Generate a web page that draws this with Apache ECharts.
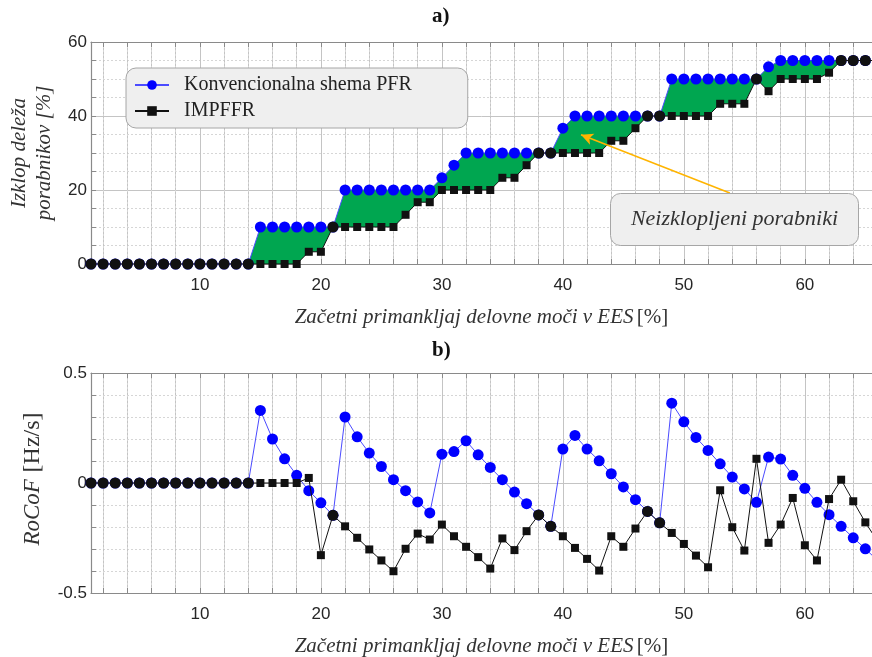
<!DOCTYPE html>
<html><head><meta charset="utf-8">
<script src="https://cdn.jsdelivr.net/npm/echarts@6/dist/echarts.min.js"></script>
<style>html,body{margin:0;padding:0;background:#fff}#c{width:872px;height:657px}</style>
</head><body><div id="c"></div>
<script>
// ---- data ----
const xValues = [1,2,3,4,5,6,7,8,9,10,11,12,13,14,15,16,17,18,19,20,21,22,23,24,25,26,27,28,29,30,31,32,33,34,35,36,37,38,39,40,41,42,43,44,45,46,47,48,49,50,51,52,53,54,55,56,57,58,59,60,61,62,63,64,65,66];
// a) Izklop deleža porabnikov [%]
const shedPFR = [0,0,0,0,0,0,0,0,0,0,0,0,0,0, 10,10,10,10,10,10,10, 20,20,20,20,20,20,20,20, 23.3,26.7, 30,30,30,30,30,30,30,30, 36.7, 40,40,40,40,40,40,40,40, 50,50,50,50,50,50,50,50, 53.3, 55,55,55,55,55,55,55,55,55];
const shedIMPFFR = [0,0,0,0,0,0,0,0,0,0,0,0,0,0,0,0,0,0, 3.3,3.3, 10,10,10,10,10,10, 13.3, 16.7,16.7, 20,20,20,20,20, 23.3,23.3, 26.7, 30,30,30,30,30,30, 33.3,33.3, 36.7, 40,40,40,40,40,40, 43.3,43.3,43.3, 50, 46.7, 50,50,50,50, 51.7, 55,55,55,55];
// b) RoCoF [Hz/s]
const rocofPFR = [0,0,0,0,0,0,0,0,0,0,0,0,0,0, 0.33,0.20,0.11,0.035,-0.035,-0.09,-0.147, 0.30,0.21,0.136,0.075,0.015,-0.035,-0.086,-0.136, 0.131,0.143,0.192,0.128,0.071,0.015,-0.041,-0.094,-0.145,-0.197, 0.154,0.216,0.154,0.101,0.042,-0.018,-0.076,-0.129,-0.181, 0.363,0.278,0.207,0.148,0.087,0.027,-0.027,-0.088, 0.118,0.109,0.035,-0.024,-0.088,-0.144,-0.197,-0.249,-0.299,-0.352];
const rocofIMPFFR = [0,0,0,0,0,0,0,0,0,0,0,0,0,0,0,0,0,0, 0.023,-0.328,-0.147,-0.197,-0.249,-0.302,-0.352,-0.401,-0.299,-0.230,-0.257,-0.189,-0.242,-0.290,-0.337,-0.389,-0.252,-0.305,-0.219,-0.145,-0.197,-0.242,-0.295,-0.345,-0.398,-0.242,-0.290,-0.207,-0.129,-0.181,-0.227,-0.277,-0.330,-0.383,-0.033,-0.201,-0.307,0.110,-0.272,-0.189,-0.068,-0.283,-0.352,-0.073,0.015,-0.083,-0.179,-0.264];
const xTickLabels = [10,20,30,40,50,60];
const xMinorTicks = [2,4,6,8,10,12,14,16,18,20,22,24,26,28,30,32,34,36,38,40,42,44,46,48,50,52,54,56,58,60,62,64];
const xMinorGrid = xMinorTicks.filter(v => v % 10 !== 0);
const nameA = 'Konvencionalna shema PFR';
const nameB = 'IMPFFR';
const annotationText = 'Neizklopljeni porabniki';
const arrowFrom = [53.8, 19.2];
const arrowTo = [41.5, 34.9];

// ---- helpers ----
const pairs = arr => xValues.map((x, i) => [x, arr[i]]);
const common = (a, b) => xValues.map((x, i) => a[i] === b[i] ? [x, a[i]] : null).filter(Boolean);

const SERIF = '"Liberation Serif", "DejaVu Serif", serif';
const SANS = '"Liberation Sans", Arial, sans-serif';
const GRID_MAJOR = '#c4c4c4';
const GRID_MINOR = '#d6d6d6';
const AXIS = '#8a8a8a';
const BLUE = '#0000ff';
const BLUE_LINE = '#4b4bff';
const BLACK = '#111111';
const GREEN = '#00a650';

const X_MIN = 1, X_MAX = 65.55;

function xAxisBottom(gridIndex) {
  return {
    type: 'value', gridIndex, position: 'bottom', min: X_MIN, max: X_MAX,
    axisLine: { show: true, onZero: false, lineStyle: { color: AXIS, width: 1.2 } },
    axisTick: { show: true, inside: true, length: 5, customValues: xMinorTicks, lineStyle: { color: AXIS } },
    axisLabel: { show: true, customValues: xTickLabels, margin: 13, color: '#262626', fontFamily: SANS, fontSize: 17 },
    splitLine: { show: true, lineStyle: { color: GRID_MAJOR, width: 1 } },
    name: '{i|Začetni primankljaj delovne moči v EES} {u|[%]}',
    nameLocation: 'middle', nameGap: 43,
    nameTextStyle: { rich: {
      i: { fontFamily: SERIF, fontStyle: 'italic', fontSize: 21, color: '#333' },
      u: { fontFamily: SERIF, fontSize: 21, color: '#333' } } }
  };
}
function xAxisTop(gridIndex) {
  return {
    type: 'value', gridIndex, position: 'top', min: X_MIN, max: X_MAX,
    axisLine: { show: true, onZero: false, lineStyle: { color: AXIS, width: 1.2 } },
    axisTick: { show: true, inside: true, length: 5, customValues: xMinorTicks, lineStyle: { color: AXIS } },
    axisLabel: { show: false }, splitLine: { show: false }
  };
}
const minorGridMarkLine = {
  silent: true, z: 0, symbol: ['none', 'none'], label: { show: false },
  lineStyle: { type: [2, 2], color: GRID_MINOR, width: 1 },
  emphasis: { disabled: true },
  data: xMinorGrid.map(v => ({ xAxis: v }))
};
const markerStyle = c => ({ color: c, borderColor: c, borderWidth: 0, opacity: 1 });

const option = {
  animation: false,
  backgroundColor: '#ffffff',
  grid: [
    { left: 91, width: 781, top: 42, height: 222, outerBoundsMode: 'none' },
    { left: 91, width: 781, top: 373, height: 220, outerBoundsMode: 'none' }
  ],
  xAxis: [xAxisBottom(0), xAxisTop(0), xAxisBottom(1), xAxisTop(1)],
  yAxis: [
    { type: 'value', gridIndex: 0, min: 0, max: 60, interval: 20,
      axisLine: { show: true, onZero: false, lineStyle: { color: AXIS, width: 1.2 } },
      axisTick: { show: true, inside: true, length: 5, lineStyle: { color: AXIS } },
      minorTick: { show: true, splitNumber: 4, length: 5, lineStyle: { color: AXIS } },
      axisLabel: { margin: 4, color: '#262626', fontFamily: SANS, fontSize: 17 },
      splitLine: { show: true, lineStyle: { color: GRID_MAJOR } },
      minorSplitLine: { show: true, lineStyle: { color: GRID_MINOR, type: [2, 2] } },
      name: '{i|Izklop deleža}\n{i|porabnikov [%]}', nameLocation: 'middle', nameGap: 34, nameRotate: 90,
      nameTextStyle: { lineHeight: 25, rich: { i: { fontFamily: SERIF, fontStyle: 'italic', fontSize: 21, color: '#333', lineHeight: 25 } } }
    },
    { type: 'value', gridIndex: 1, min: -0.5, max: 0.5, interval: 0.5,
      axisLine: { show: true, onZero: false, lineStyle: { color: AXIS, width: 1.2 } },
      axisTick: { show: true, inside: true, length: 5, lineStyle: { color: AXIS } },
      minorTick: { show: true, splitNumber: 5, length: 5, lineStyle: { color: AXIS } },
      axisLabel: { margin: 4, color: '#262626', fontFamily: SANS, fontSize: 17 },
      splitLine: { show: true, lineStyle: { color: GRID_MAJOR } },
      minorSplitLine: { show: true, lineStyle: { color: GRID_MINOR, type: [2, 2] } },
      name: '{i|RoCoF}  {u|[Hz/s]}', nameLocation: 'middle', nameGap: 46, nameRotate: 90,
      nameTextStyle: { padding: [0, 0, 0, 8], rich: {
        i: { fontFamily: SERIF, fontStyle: 'italic', fontSize: 23, color: '#333' },
        u: { fontFamily: SERIF, fontSize: 24, color: '#333' } } }
    }
  ],
  legend: {
    left: 126, top: 68, orient: 'vertical',
    data: [nameA, nameB],
    backgroundColor: '#efefef', borderColor: '#a6a6a6', borderWidth: 1, borderRadius: 10,
    padding: [7, 56, 7, 8], itemGap: 6, itemWidth: 34, itemHeight: 12,
    textStyle: { fontFamily: SERIF, fontSize: 20, color: '#222', padding: [0, 0, 0, 10] },
    selectedMode: false
  },
  graphic: [
    { type: 'text', left: 432, top: 6, style: { text: 'a)', font: 'bold 21px "Liberation Serif", serif', fill: '#111' } },
    { type: 'text', left: 432, top: 340, style: { text: 'b)', font: 'bold 21px "Liberation Serif", serif', fill: '#111' } },
    { type: 'group', left: 610, top: 193, z: 100, children: [
      { type: 'rect', z: 100, shape: { x: 0, y: 0, width: 248, height: 52, r: 10 }, style: { fill: '#efefef', stroke: '#a6a6a6', lineWidth: 1 } },
      { type: 'text', z: 101, x: 124, y: 26, style: { text: annotationText, font: 'italic 22px "Liberation Serif", serif', fill: '#333', align: 'center', verticalAlign: 'middle' } }
    ] }
  ],
  series: [
    // ---- a) ----
    { name: 'gridA', type: 'line', xAxisIndex: 0, yAxisIndex: 0, data: [], symbol: 'none', silent: true, z: 1,
      markLine: minorGridMarkLine },
    { name: 'gap', type: 'custom', xAxisIndex: 0, yAxisIndex: 0, data: [[X_MIN, 0]], silent: true, z: 2, clip: true,
      renderItem: (params, api) => {
        const pts = [];
        for (let i = 0; i < xValues.length; i++) pts.push(api.coord([xValues[i], shedPFR[i]]));
        for (let i = xValues.length - 1; i >= 0; i--) pts.push(api.coord([xValues[i], shedIMPFFR[i]]));
        return { type: 'polygon', shape: { points: pts }, style: { fill: GREEN, stroke: null } };
      } },
    { name: nameA, type: 'line', xAxisIndex: 0, yAxisIndex: 0, data: pairs(shedPFR),
      symbol: 'circle', symbolSize: 11, lineStyle: { color: BLUE_LINE, width: 1 }, itemStyle: markerStyle(BLUE), z: 3 },
    { name: nameB, type: 'line', xAxisIndex: 0, yAxisIndex: 0, data: pairs(shedIMPFFR),
      symbol: 'rect', symbolSize: 8, lineStyle: { color: BLACK, width: 1 }, itemStyle: markerStyle(BLACK), z: 4 },
    { name: 'commonA', type: 'scatter', xAxisIndex: 0, yAxisIndex: 0, data: common(shedPFR, shedIMPFFR),
      symbol: 'circle', symbolSize: 11, itemStyle: markerStyle(BLACK), z: 5,
      markLine: { silent: true, z: 10, symbol: ['none', 'arrow'], symbolSize: [9, 12], label: { show: false },
        lineStyle: { color: '#ffb400', width: 1.6, type: 'solid' },
        data: [[{ coord: arrowFrom }, { coord: arrowTo }]] } },
    // ---- b) ----
    { name: 'gridB', type: 'line', xAxisIndex: 2, yAxisIndex: 1, data: [], symbol: 'none', silent: true, z: 1,
      markLine: minorGridMarkLine },
    { name: nameA + ' ', type: 'line', xAxisIndex: 2, yAxisIndex: 1, data: pairs(rocofPFR),
      symbol: 'circle', symbolSize: 11, lineStyle: { color: BLUE_LINE, width: 1 }, itemStyle: markerStyle(BLUE), z: 3 },
    { name: nameB + ' ', type: 'line', xAxisIndex: 2, yAxisIndex: 1, data: pairs(rocofIMPFFR),
      symbol: 'rect', symbolSize: 8, lineStyle: { color: BLACK, width: 1 }, itemStyle: markerStyle(BLACK), z: 4 },
    { name: 'commonB', type: 'scatter', xAxisIndex: 2, yAxisIndex: 1, data: common(rocofPFR, rocofIMPFFR),
      symbol: 'circle', symbolSize: 11, itemStyle: markerStyle(BLACK), z: 5 }
  ]
};
const chart = echarts.init(document.getElementById('c'), null, { renderer: 'canvas' });
chart.setOption(option);
</script>
</body></html>
